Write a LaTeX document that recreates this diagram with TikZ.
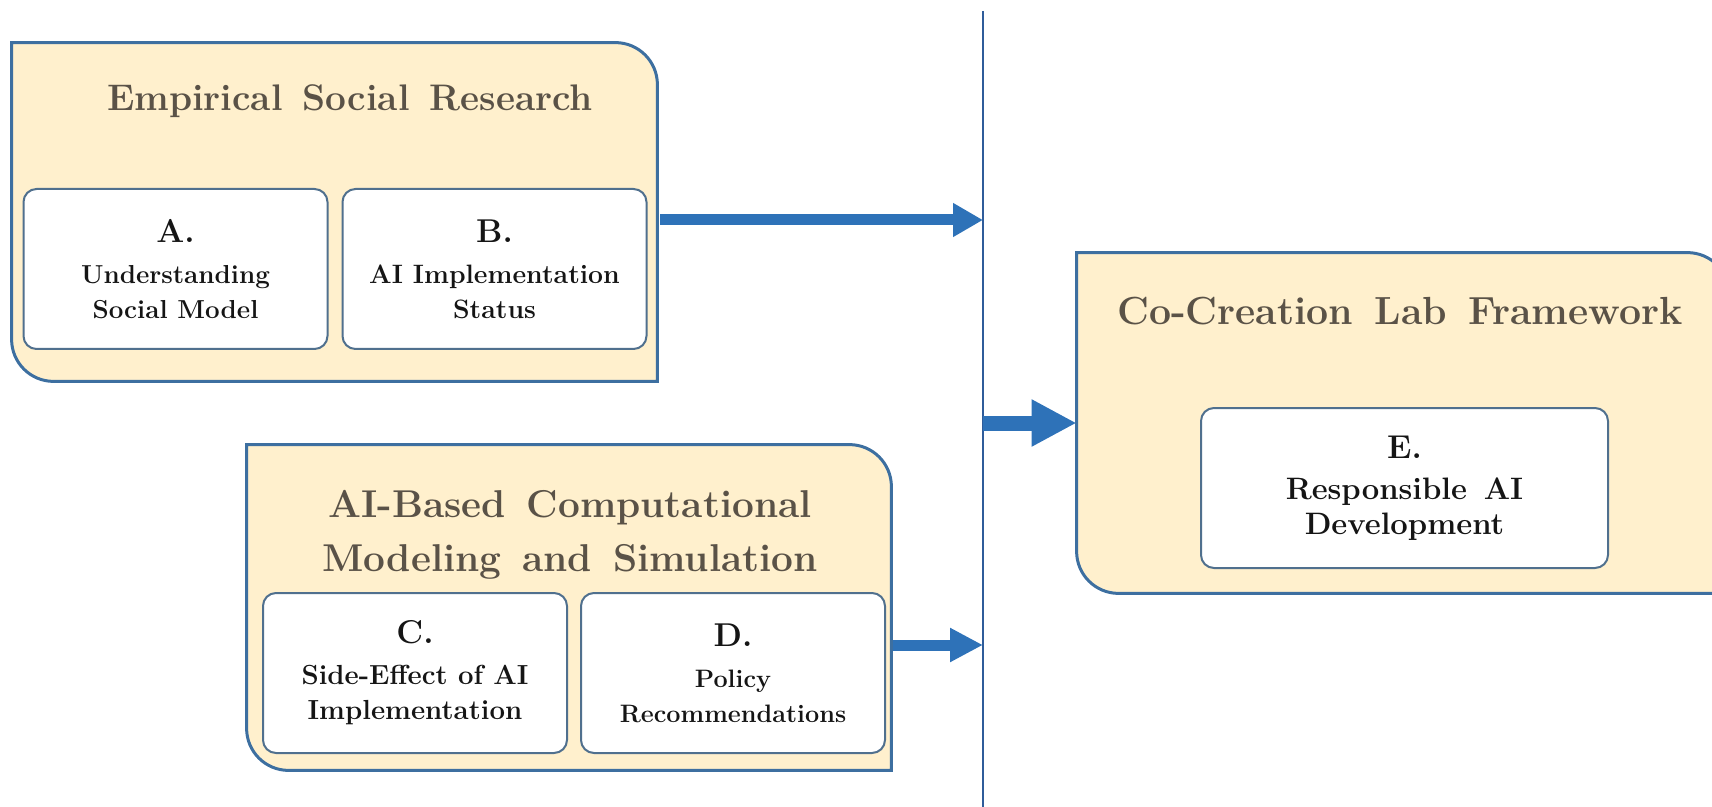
\documentclass[tikz,border=0pt]{standalone}
\usepackage{xcolor}
\usepackage{tikz}
\usetikzlibrary{arrows.meta, positioning}
\definecolor{Cream}{HTML}{FFF0CD}
\definecolor{FrameBlue}{HTML}{3D6FA0}
\definecolor{BoxEdge}{HTML}{50708E}
\definecolor{FlowBlue}{HTML}{2E72B8}
\definecolor{BarBlue}{HTML}{2F5C9A}
\definecolor{TitleGray}{HTML}{5A5247}
\definecolor{InkBlack}{HTML}{151515}

% outer panel: square corners except top right and bottom left
\newcommand{\halfframe}[1]{%
  \filldraw[frame] (#1.north west) -- ([xshift=-21pt]#1.north east)
    arc[start angle=90, end angle=0, radius=21pt] -- (#1.south east)
    -- ([xshift=21pt]#1.south west)
    arc[start angle=270, end angle=180, radius=21pt] -- cycle;}
\newcommand{\unitlbl}[1]{{\fontsize{16.5}{18}\selectfont #1}}

\begin{document}
\begin{tikzpicture}[
  x=0.5pt, y=-0.5pt,
  panel/.style={inner sep=0pt, minimum width=322.5pt, minimum height=169pt},
  frame/.style={draw=FrameBlue, fill=Cream, line width=1.5pt},
  title/.style={text=TitleGray, align=center},
  titlefont/.style={font=\fontsize{#1}{27}\selectfont\bfseries},
  unit/.style={draw=BoxEdge, fill=white, line width=1pt, rounded corners=6.5pt, minimum width=152pt, minimum height=80pt, align=center, text=InkBlack},
  unitfont/.style={font=\fontsize{#1}{17.5}\selectfont\bfseries},
  flow/.style={-{Triangle[length=15pt, width=16pt]}, line width=5.5pt, color=FlowBlue},
  divider/.style={line width=1.3pt, color=BarBlue}
]
\useasboundingbox (0,0) rectangle (1712,807);

% panels
\node[panel] (esr) at (334.5,212) {};
\node[panel, minimum width=322pt, minimum height=162.5pt] (aibm) at (569,607.5) {};
\node[panel, minimum width=326pt, minimum height=170pt] (cocl) at (1403,423) {};
\halfframe{esr}
\halfframe{aibm}
\halfframe{cocl}

\node[title, titlefont=18.5] (esrtitle) at (350,101) {Empirical\, Social\, Research};
\node[title, titlefont=19.4] (aibmtitle) at (570,535) {AI-Based\, Computational\\Modeling\, and\, Simulation};
\node[title, titlefont=19.6] (cocltitle) at (1400,311) {Co-Creation\, Lab\, Framework};

\node[unit, unitfont=13] (sumA) at (175.5,269) {\unitlbl{A.}\\[3pt]Understanding\\Social Model};
\node[unit, unitfont=13.3, right=6.5pt of sumA] (sumB) {\unitlbl{B.}\\[3pt]AI Implementation\\Status};
\node[unit, unitfont=13.8] (sumC) at (415,673) {\unitlbl{C.}\\[3pt]Side-Effect of AI\\Implementation};
\node[unit, unitfont=12.6, right=6pt of sumC] (sumD) {\unitlbl{D.}\\[3pt]Policy\\Recommendations};
\node[unit, unitfont=15.5, minimum width=203.5pt] (sumE) at (1404.5,488) {\unitlbl{E.}\\[3pt]Responsible\, AI\\Development};

% divider and flows
\coordinate (bartop) at (983,11);
\coordinate (barbot) at (983,807);
\draw[divider] (bartop) -- (barbot);

\draw[flow] ([xshift=1.5pt, yshift=-4pt]esr.east) -- ([yshift=-4pt]esr.east -| bartop);
\draw[flow, -{Triangle[length=16.5pt, width=16pt]}] ([xshift=1pt, yshift=-18.75pt]aibm.east) -- ([yshift=-18.75pt]aibm.east -| bartop);
\draw[flow, line width=7.5pt, -{Triangle[length=22.5pt, width=22pt]}] (cocl.west -| bartop) -- (cocl.west);
\end{tikzpicture}
\end{document}
